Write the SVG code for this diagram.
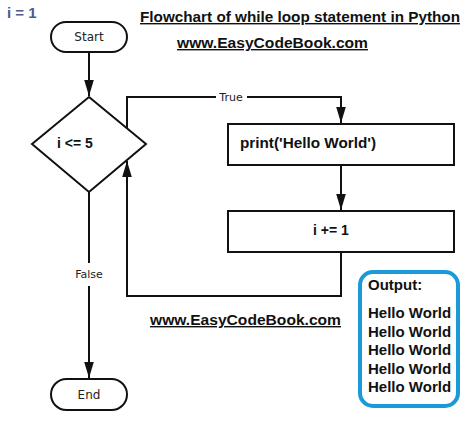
<svg xmlns="http://www.w3.org/2000/svg" width="474" height="422" viewBox="0 0 474 422">
<defs>
<style>
.ln{fill:none;stroke:#111;stroke-width:2}
.sh{fill:#fff;stroke:#111;stroke-width:2}
.lab{font-family:"DejaVu Sans","Liberation Sans",sans-serif;font-size:11px;fill:#222}
.b{font-family:"Liberation Sans",Arial,sans-serif;font-weight:bold;fill:#111}
.u{text-decoration:underline}
</style>
<marker id="ah2" viewBox="0 0 10 10" refX="10" refY="5" markerWidth="16" markerHeight="16" orient="auto" markerUnits="userSpaceOnUse">
<path d="M0,2 L10,5 L0,8 z" fill="#111"/>
</marker>
</defs>
<rect width="474" height="422" fill="#fff"/>
<text x="7" y="18" class="b" style="fill:#4f5b8c;font-size:15px">i = 1</text>
<text x="140" y="22" class="b u" font-size="14" textLength="320" lengthAdjust="spacingAndGlyphs">Flowchart of while loop statement in Python</text>
<text x="177" y="48" class="b u" font-size="14" textLength="191" lengthAdjust="spacingAndGlyphs">www.EasyCodeBook.com</text>
<text x="150" y="325" class="b u" font-size="14" textLength="191" lengthAdjust="spacingAndGlyphs">www.EasyCodeBook.com</text>
<g id="connectors">
<path class="ln" d="M89,52 V96" marker-end="url(#ah2)"/>
<path class="ln" d="M127,128 V97 H216 M247,97 H341 V123" marker-end="url(#ah2)"/>
<text x="231" y="101" class="lab" text-anchor="middle">True</text>
<path class="ln" d="M341,165 V210" marker-end="url(#ah2)"/>
<path class="ln" d="M341,252 V296 H127 V161" marker-end="url(#ah2)"/>
<path class="ln" d="M89,192 V263 M89,286 V378" marker-end="url(#ah2)"/>
<text x="89" y="278" class="lab" text-anchor="middle">False</text>
</g>
<g id="start">
<rect x="51" y="22" width="76" height="30" rx="15" class="sh"/>
<text x="89" y="41" class="lab" text-anchor="middle" style="font-size:12px">Start</text>
</g>
<g id="cond">
<path d="M89,97 L146,144 L89,192 L32,144 Z" class="sh"/>
<text x="75" y="148" class="b" font-size="14" text-anchor="middle">i &lt;= 5</text>
</g>
<g id="print">
<rect x="228" y="124" width="226" height="41" class="sh"/>
<text x="240" y="148" class="b" font-size="14" textLength="136" lengthAdjust="spacingAndGlyphs">print('Hello World')</text>
</g>
<g id="incr">
<rect x="228" y="211" width="226" height="41" class="sh"/>
<text x="331" y="235" class="b" font-size="14" text-anchor="middle">i += 1</text>
</g>
<g id="end">
<rect x="51" y="379" width="76" height="31" rx="15.5" class="sh"/>
<text x="89" y="399" class="lab" text-anchor="middle" style="font-size:12px">End</text>
</g>
<g id="output">
<rect x="360" y="272" width="98" height="134" rx="13" fill="#fff" stroke="#1a9ad7" stroke-width="4"/>
<text class="b" font-size="15" x="368">
<tspan x="368" y="290">Output:</tspan>
<tspan x="368" y="318">Hello World</tspan>
<tspan x="368" y="337">Hello World</tspan>
<tspan x="368" y="355">Hello World</tspan>
<tspan x="368" y="374">Hello World</tspan>
<tspan x="368" y="392">Hello World</tspan>
</text>
</g>
</svg>
